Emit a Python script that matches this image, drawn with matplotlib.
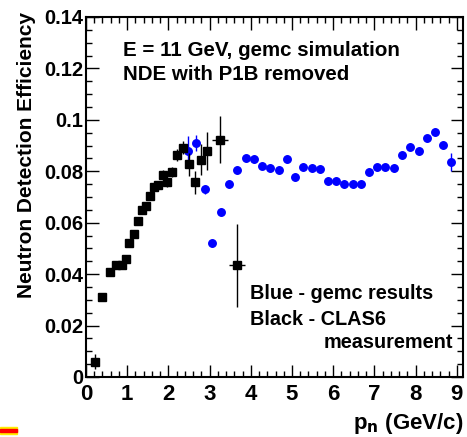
import matplotlib
matplotlib.use("Agg")
import matplotlib.pyplot as plt
from matplotlib.ticker import MultipleLocator
from matplotlib.patches import Rectangle

plt.rcParams['font.family'] = ['Liberation Sans', 'DejaVu Sans']
plt.rcParams['font.weight'] = 'bold'
plt.rcParams['mathtext.default'] = 'bf'

# CLAS6 measurement (black)
clas_p = [0.22, 0.40, 0.58, 0.74, 0.87, 0.96, 1.05, 1.17, 1.26, 1.36, 1.46, 1.55,
          1.66, 1.75, 1.86, 1.96, 2.09, 2.22, 2.36, 2.50, 2.64, 2.78, 2.94, 3.25, 3.66]
clas_eff = [0.006, 0.031, 0.041, 0.0435, 0.0435, 0.046, 0.052, 0.0555, 0.0607, 0.0648,
            0.0665, 0.0703, 0.0737, 0.0747, 0.0786, 0.0757, 0.0798, 0.0864, 0.0891,
            0.0828, 0.0757, 0.0845, 0.0878, 0.0923, 0.0434]
clas_err = [0.003, 0.0015, 0.001, 0.001, 0.001, 0.001, 0.001, 0.001, 0.001, 0.001,
            0.001, 0.001, 0.0012, 0.0012, 0.002, 0.002, 0.002, 0.0024, 0.0025,
            0.0045, 0.0045, 0.006, 0.0074, 0.0091, 0.016]
clas_xerr = [0, 0, 0, 0, 0, 0, 0, 0, 0, 0, 0, 0, 0, 0, 0, 0, 0, 0, 0, 0, 0, 0, 0, 0.2, 0.2]

# gemc simulation (blue)
gemc_p = [2.48, 2.67, 2.88, 3.07, 3.27, 3.48, 3.67, 3.88, 4.08, 4.27, 4.47, 4.68,
          4.88, 5.08, 5.27, 5.48, 5.67, 5.87, 6.07, 6.27, 6.47, 6.67, 6.87, 7.07,
          7.26, 7.47, 7.66, 7.86, 8.07, 8.27, 8.46, 8.67, 8.87]
gemc_eff = [0.0878, 0.0910, 0.0730, 0.0520, 0.0643, 0.0750, 0.0806, 0.0850, 0.0848,
            0.0822, 0.0813, 0.0806, 0.0848, 0.0777, 0.0818, 0.0813, 0.0809, 0.0763,
            0.0763, 0.0750, 0.0750, 0.0750, 0.0796, 0.0815, 0.0815, 0.0813, 0.0863,
            0.0896, 0.0880, 0.0928, 0.0954, 0.0903, 0.0835]
gemc_err = [0.006, 0.003, 0.0018, 0.0015, 0.0015, 0.0015, 0.0015, 0.0015, 0.0015,
            0.0015, 0.0015, 0.0015, 0.0015, 0.0015, 0.0015, 0.0015, 0.0015, 0.0015,
            0.0015, 0.0015, 0.0015, 0.0015, 0.0015, 0.0015, 0.0015, 0.0015, 0.0015,
            0.0015, 0.0015, 0.0015, 0.0015, 0.0015, 0.0035]

W, H = 467, 437
fig = plt.figure(figsize=(W / 100, H / 100), dpi=100)
ax = fig.add_axes([86 / W, (H - 377) / H, 377 / W, 360 / H])

ax.errorbar(gemc_p, gemc_eff, yerr=gemc_err, fmt='o', color='#0000ff', ecolor='#0000ff',
            markersize=5.4, elinewidth=1.0, capsize=0, zorder=3)
ax.errorbar(clas_p, clas_eff, yerr=clas_err, xerr=clas_xerr, fmt='s', color='black',
            ecolor='black', markersize=5.4, elinewidth=1.0, capsize=0, zorder=4)

ax.set_xlim(0, 9.15)
ax.set_ylim(0, 0.14)
ax.xaxis.set_major_locator(MultipleLocator(1))
ax.xaxis.set_minor_locator(MultipleLocator(0.2))
ax.yaxis.set_minor_locator(MultipleLocator(0.005))
ax.set_yticks([0, 0.02, 0.04, 0.06, 0.08, 0.1, 0.12, 0.14])
ax.set_yticklabels(['0', '0.02', '0.04', '0.06', '0.08', '0.1', '0.12', '0.14'])
ax.tick_params(which='both', direction='in', top=True, right=True, width=1.0)
ax.tick_params(which='major', length=9)
ax.tick_params(which='minor', length=4.5)
ax.tick_params(axis='x', which='major', labelsize=16, pad=5)
ax.tick_params(axis='y', which='major', labelsize=14.5, pad=2)
for lab in ax.get_xticklabels() + ax.get_yticklabels():
    lab.set_fontweight('bold')
for s in ax.spines.values():
    s.set_linewidth(1.5)

fig.text(27 / W, (H - 12) / H, 'Neutron Detection Efficiency', rotation=90,
         fontsize=15, fontweight='bold', ha='center', va='top')
ax.text(1.0, -0.13, r'p$_\mathbf{n}$ (GeV/c)', transform=ax.transAxes,
        fontsize=16, fontweight='bold', ha='right', va='center')

fs = 14.8
ax.text(0.098, 0.908, 'E = 11 GeV, gemc simulation', transform=ax.transAxes,
        fontsize=fs, fontweight='bold', va='center', ha='left')
ax.text(0.098, 0.839, 'NDE with P1B removed', transform=ax.transAxes,
        fontsize=fs, fontweight='bold', va='center', ha='left')
fs2 = 14.3
ax.text(0.435, 0.233, 'Blue - gemc results', transform=ax.transAxes,
        fontsize=fs2, fontweight='bold', va='center', ha='left')
ax.text(0.435, 0.161, 'Black - CLAS6', transform=ax.transAxes,
        fontsize=fs2, fontweight='bold', va='center', ha='left')
ax.text(0.973, 0.097, 'measurement', transform=ax.transAxes,
        fontsize=fs2, fontweight='bold', va='center', ha='right')

# small coloured mark at bottom-left
fig.patches.append(Rectangle((0, (H - 434) / H), 17 / W, 7 / H,
                             transform=fig.transFigure, color='#ffee00', zorder=1))
fig.patches.append(Rectangle((0, (H - 431.5) / H), 17 / W, 3 / H,
                             transform=fig.transFigure, color='#ff0000', zorder=2))

fig.savefig('out.png', dpi=100)
